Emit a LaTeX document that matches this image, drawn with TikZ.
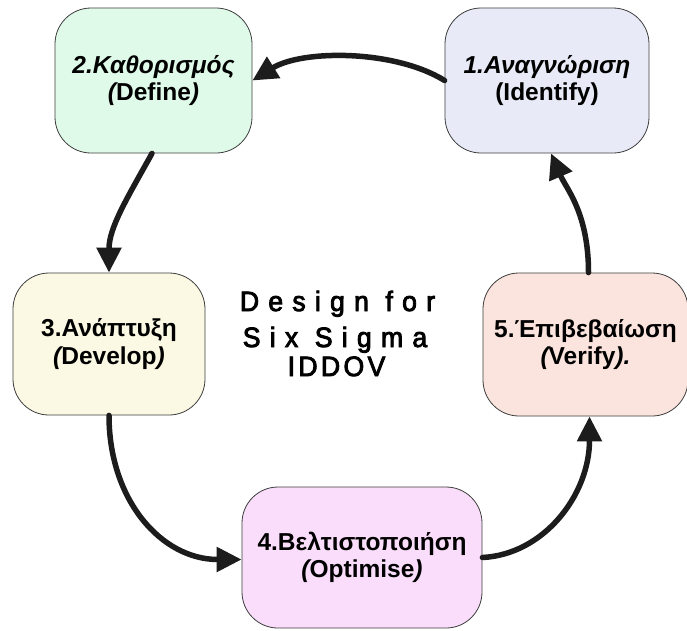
\documentclass[tikz,border=0pt]{standalone}
\usepackage{fontspec}
\setmainfont{Liberation Sans}
\usetikzlibrary{arrows.meta}

\definecolor{idfill}{HTML}{E8EBF7}
\definecolor{deffill}{HTML}{DFFAE9}
\definecolor{devfill}{HTML}{FBF8E3}
\definecolor{optfill}{HTML}{FADDFA}
\definecolor{verfill}{HTML}{FCE4DE}
\definecolor{ink}{HTML}{1C1C1C}

\begin{document}
\begin{tikzpicture}[x=1pt,y=-1pt,
  phase/.style={draw=ink!85, line width=0.8pt, rounded corners=36pt,
    align=center, inner sep=0pt,
    font=\fontsize{24.5}{27.5}\selectfont\bfseries},
  flow/.style={draw=ink, line width=5.5pt, line cap=round,
    -{Triangle[length=25pt,width=24pt]}},
  title/.style={anchor=base, inner sep=0pt,
    font=\fontsize{28}{30}\selectfont}
]
\useasboundingbox (0,0) rectangle (687,630);
\fill[white] (0,0) rectangle (687,630);

% the five IDDOV phases
\node[phase, fill=idfill, minimum width=204pt, minimum height=145pt]
  (b1) at (547,80.5) {\itshape 1.Αναγνώριση\\(Identify)};
\node[phase, fill=deffill, minimum width=197pt, minimum height=145pt]
  (b2) at (153.5,80.5) {\itshape 2.Καθορισμός\\{\itshape(}Define{\itshape)}};
\node[phase, fill=devfill, minimum width=192pt, minimum height=142pt]
  (b3) at (109,344) {3.Ανάπτυξη\\{\itshape(}Develop{\itshape)}};
\node[phase, fill=optfill, minimum width=240pt, minimum height=141pt]
  (b4) at (362,557.5) {4.Βελτιστοποιήση\\{\itshape(}Optimise{\itshape)}};
\node[phase, fill=verfill, minimum width=205pt, minimum height=143pt]
  (b5) at (585.5,344.5) {5.Έπιβεβαίωση\\{\itshape(}Verify{\itshape).}};

% central title
\node[title] (t1) at (337.5,311)
  {\addfontfeature{FakeStretch=0.95,FakeBold=3,LetterSpace=33}Design for};
\node[title] (t2) at (335,347)
  {\addfontfeature{FakeStretch=0.95,FakeBold=3,LetterSpace=33}Six Sigma};
\node[title] (t3) at (336.5,376)
  {\addfontfeature{FakeStretch=0.95,FakeBold=3,LetterSpace=12}IDDOV};

% clockwise cycle of arrows
\draw[flow] (b1.west) .. controls +(-50,-31) and +(50,-31) .. (b2.east);
\draw[flow] ([xshift=-1.5pt]b2.south) .. controls +(-25,45) and +(0,-45) .. (b3.north);
\draw[flow] (b3.south) .. controls +(0,85) and +(-80,0) .. ([yshift=-2pt]b4.west);
\draw[flow] (b4.east) .. controls +(61,-3) and +(0,79) .. ([xshift=4pt]b5.south);
\draw[flow] ([xshift=3pt]b5.north) .. controls +(0,-60) and +(15,35) .. ([xshift=4pt]b1.south);
\end{tikzpicture}
\end{document}
